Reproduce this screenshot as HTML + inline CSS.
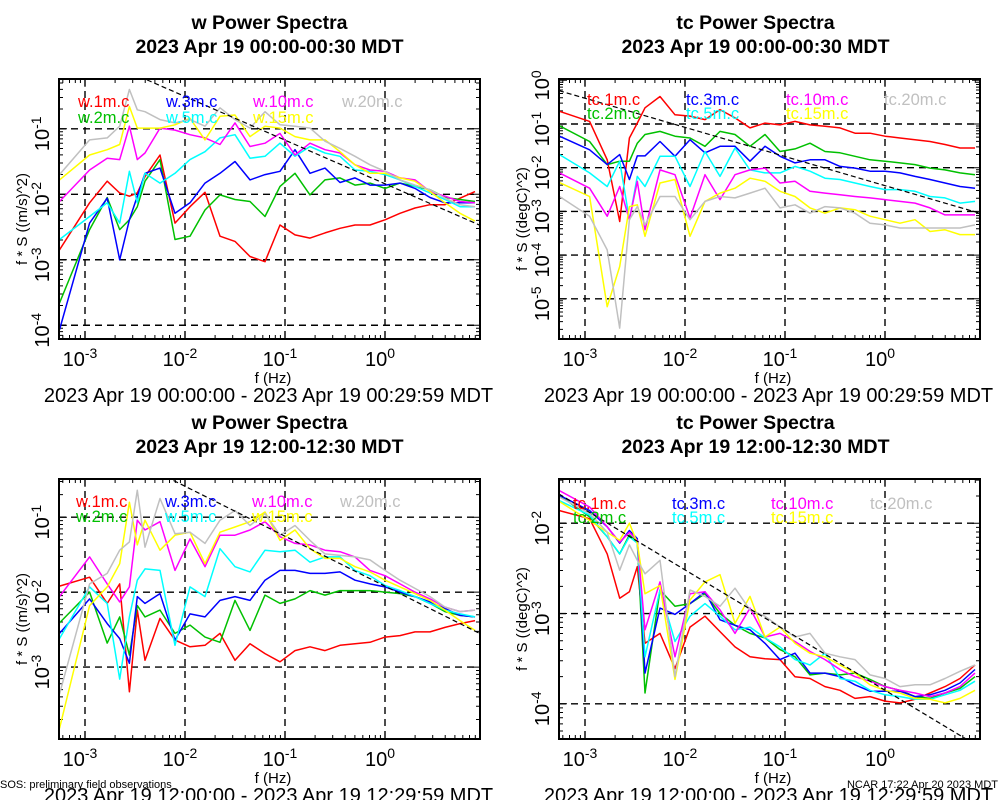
<!DOCTYPE html>
<html><head><meta charset="utf-8">
<style>
body{margin:0;background:#fff;}
svg{display:block;font-family:"Liberation Sans",sans-serif;}
</style></head>
<body>
<svg id="chart" width="1000" height="800" viewBox="0 0 1000 800"></svg>
<script>
// frequency bins (log10 Hz)
const freqLog = [-3.255,-2.954,-2.778,-2.653,-2.556,-2.477,-2.4,-2.25,-2.1,-1.95,-1.8,-1.65,-1.5,-1.35,-1.2,-1.05,-0.9,-0.75,-0.6,-0.45,-0.3,-0.15,0,0.15,0.3,0.45,0.6,0.75,0.9];
// series names
const wNames = ["w.1m.c","w.2m.c","w.3m.c","w.5m.c","w.10m.c","w.15m.c","w.20m.c"];
const tcNames = ["tc.1m.c","tc.2m.c","tc.3m.c","tc.5m.c","tc.10m.c","tc.15m.c","tc.20m.c"];
// panel 1: w 00:00 (log10 of f*S)
const w00_1m = [-2.85,-2.13,-1.80,-1.98,-2.03,-1.98,-1.73,-1.40,-2.44,-2.19,-1.97,-2.64,-2.72,-2.95,-3.03,-2.47,-2.62,-2.67,-2.59,-2.52,-2.47,-2.47,-2.39,-2.29,-2.21,-2.16,-2.16,-2.06,-1.96];
const w00_2m = [-3.66,-2.54,-2.05,-2.54,-2.39,-2.19,-1.80,-1.47,-2.69,-2.64,-2.24,-2.01,-2.08,-2.11,-2.34,-1.88,-1.68,-2.01,-1.78,-1.75,-1.86,-1.83,-1.91,-1.83,-1.88,-1.93,-2.05,-2.08,-2.11];
const w00_3m = [-4.07,-2.44,-2.06,-3.0,-2.39,-2.03,-1.68,-1.60,-2.29,-2.13,-1.83,-1.68,-1.50,-1.78,-1.70,-1.65,-1.32,-1.68,-1.60,-1.82,-1.75,-1.86,-1.86,-1.83,-1.91,-2.05,-2.13,-2.13,-2.13];
const w00_5m = [-2.69,-2.34,-2.13,-2.44,-1.65,-2.13,-1.68,-1.83,-1.68,-1.47,-1.35,-1.14,-1.09,-1.45,-1.42,-1.22,-1.42,-1.27,-1.37,-1.42,-1.63,-1.65,-1.70,-1.78,-1.88,-1.98,-2.08,-2.19,-2.19];
const w00_10m = [-2.11,-1.63,-1.45,-1.47,-0.96,-1.47,-1.37,-0.99,-1.02,-1.09,-1.14,-1.24,-0.91,-1.27,-1.22,-1.07,-1.40,-1.22,-1.32,-1.37,-1.55,-1.63,-1.65,-1.75,-1.78,-1.96,-2.03,-2.11,-2.13];
const w00_15m = [-1.78,-1.40,-1.32,-1.24,-0.66,-0.99,-0.99,-0.99,-0.94,-0.84,-1.17,-0.81,-0.79,-1.12,-0.96,-0.99,-1.12,-1.17,-1.17,-1.35,-1.55,-1.68,-1.68,-1.75,-1.80,-1.96,-2.13,-2.29,-2.41];
const w00_20m = [-1.70,-1.17,-1.14,-0.96,-0.40,-0.71,-0.74,-0.86,-0.91,-0.86,-0.96,-0.68,-0.86,-0.99,-0.74,-0.94,-0.96,-0.99,-1.19,-1.30,-1.42,-1.55,-1.65,-1.78,-1.86,-1.93,-2.06,-2.16,-2.19];
// panel 2: tc 00:00
const tc00_1m = [-0.71,-0.94,-1.82,-3.23,-1.32,-0.98,-0.63,-0.37,-0.79,-0.82,-0.90,-0.67,-0.86,-1.09,-0.98,-1.02,-0.94,-1.02,-1.05,-1.09,-1.21,-1.21,-1.28,-1.32,-1.36,-1.40,-1.47,-1.55,-1.55];
const tc00_2m = [-1.04,-1.40,-1.93,-1.85,-1.85,-1.44,-1.24,-1.17,-1.28,-1.32,-1.51,-1.17,-1.24,-1.51,-1.24,-1.63,-1.57,-1.44,-1.63,-1.66,-1.74,-1.82,-1.85,-1.89,-1.93,-2.01,-2.05,-2.12,-2.16];
const tc00_3m = [-1.28,-1.59,-1.93,-1.70,-2.27,-1.73,-1.73,-1.40,-1.74,-1.36,-1.66,-1.51,-1.51,-1.85,-1.51,-1.74,-1.89,-1.82,-1.82,-1.97,-2.01,-2.08,-2.08,-2.12,-2.20,-2.27,-2.35,-2.43,-2.47];
const tc00_5m = [-1.70,-2.12,-2.43,-1.85,-3.19,-2.20,-2.43,-1.74,-1.74,-2.43,-1.63,-2.20,-1.55,-2.05,-2.12,-2.12,-1.97,-2.08,-2.24,-2.27,-2.35,-2.43,-2.50,-2.50,-2.54,-2.66,-2.69,-2.81,-2.77];
const tc00_10m = [-2.12,-2.47,-3.11,-2.43,-3.19,-2.31,-3.42,-2.05,-2.16,-3.15,-2.16,-2.73,-2.16,-2.05,-2.01,-2.35,-2.31,-2.54,-2.58,-2.62,-2.66,-2.69,-2.73,-2.77,-2.81,-2.92,-3.08,-3.08,-3.08];
const tc00_15m = [-2.34,-2.66,-5.18,-4.26,-2.89,-2.85,-3.57,-2.35,-2.27,-3.57,-2.77,-2.58,-2.47,-2.24,-2.31,-2.54,-2.66,-2.92,-3.04,-2.92,-2.96,-3.11,-3.19,-3.27,-3.19,-3.46,-3.42,-3.53,-3.53];
const tc00_20m = [-2.66,-3.11,-3.88,-5.67,-3.19,-2.89,-3.31,-2.66,-2.66,-3.19,-2.77,-2.66,-2.69,-2.58,-2.47,-2.92,-2.85,-3.04,-2.89,-2.92,-3.04,-3.27,-3.31,-3.38,-3.38,-3.38,-3.38,-3.38,-3.31];
// panel 3: w 12:00
const w12_1m = [-1.92,-1.80,-2.15,-1.89,-3.33,-2.24,-2.91,-2.35,-2.64,-2.73,-2.71,-2.55,-2.91,-2.69,-2.82,-2.93,-2.78,-2.73,-2.78,-2.71,-2.69,-2.67,-2.60,-2.58,-2.53,-2.53,-2.47,-2.42,-2.38];
const w12_2m = [-2.41,-2.00,-2.68,-2.33,-2.84,-2.18,-2.33,-2.24,-2.55,-2.44,-2.60,-2.67,-2.11,-2.51,-2.04,-2.15,-2.09,-1.98,-2.04,-1.98,-1.98,-1.98,-2.00,-2.02,-2.06,-2.15,-2.26,-2.31,-2.33];
const w12_3m = [-2.55,-2.09,-2.42,-2.62,-2.95,-2.06,-2.15,-2.02,-2.64,-2.29,-2.33,-2.11,-2.06,-2.11,-1.84,-1.71,-1.71,-1.75,-1.75,-1.73,-1.84,-1.89,-1.93,-2.00,-2.06,-2.13,-2.22,-2.31,-2.33];
const w12_5m = [-2.62,-1.93,-2.15,-3.16,-2.33,-1.84,-1.69,-1.71,-2.71,-1.93,-2.06,-1.42,-1.66,-1.73,-1.44,-1.46,-1.44,-1.60,-1.53,-1.53,-1.71,-1.78,-1.91,-1.98,-2.06,-2.15,-2.24,-2.29,-2.33];
const w12_10m = [-2.06,-1.53,-1.89,-2.13,-1.93,-1.04,-1.17,-1.06,-1.71,-1.29,-1.66,-1.24,-1.24,-1.17,-1.06,-1.26,-1.35,-1.37,-1.44,-1.46,-1.53,-1.71,-1.78,-1.89,-2.00,-2.09,-2.20,-2.26,-2.24];
const w12_15m = [-3.82,-2.18,-1.93,-1.62,-0.80,-1.37,-1.04,-1.44,-1.24,-1.20,-1.62,-1.20,-1.13,-1.06,-0.93,-1.31,-1.17,-1.42,-1.55,-1.55,-1.66,-1.73,-1.84,-1.93,-2.02,-2.11,-2.24,-2.38,-2.51];
const w12_20m = [-3.36,-1.89,-1.75,-1.44,-1.33,-0.64,-1.40,-0.75,-1.22,-1.20,-1.35,-1.04,-0.91,-1.11,-0.95,-1.24,-1.11,-1.31,-1.49,-1.51,-1.53,-1.57,-1.71,-1.84,-1.95,-2.06,-2.20,-2.26,-2.24];
// panel 4: tc 12:00
const tc12_1m = [-1.86,-1.95,-2.34,-2.83,-2.76,-2.48,-3.33,-3.22,-3.61,-3.15,-3.03,-3.20,-3.37,-3.48,-3.50,-3.51,-3.70,-3.72,-3.81,-3.85,-3.94,-3.92,-3.97,-3.99,-3.95,-3.88,-3.81,-3.72,-3.57];
const tc12_2m = [-1.69,-1.93,-2.15,-2.34,-2.13,-2.21,-3.88,-2.74,-2.92,-2.89,-2.78,-3.00,-3.13,-3.22,-3.27,-3.40,-3.48,-3.68,-3.66,-3.68,-3.66,-3.73,-3.81,-3.85,-3.92,-3.94,-3.88,-3.83,-3.70];
const tc12_3m = [-1.69,-1.86,-2.04,-2.22,-2.08,-2.17,-3.66,-2.94,-3.01,-2.89,-2.76,-3.07,-3.13,-3.18,-3.33,-3.51,-3.44,-3.66,-3.66,-3.70,-3.79,-3.86,-3.86,-3.86,-3.92,-3.90,-3.85,-3.77,-3.62];
const tc12_5m = [-1.75,-1.91,-2.15,-2.34,-2.15,-2.22,-3.48,-2.74,-3.31,-3.03,-2.89,-3.03,-3.18,-3.15,-3.27,-3.37,-3.51,-3.57,-3.44,-3.72,-3.75,-3.85,-3.90,-3.92,-3.95,-3.95,-3.90,-3.85,-3.75];
const tc12_10m = [-1.64,-1.82,-2.04,-2.21,-2.10,-2.19,-3.18,-2.65,-3.48,-2.78,-2.76,-2.96,-3.22,-2.94,-3.26,-3.22,-3.31,-3.42,-3.51,-3.62,-3.70,-3.75,-3.81,-3.85,-3.88,-3.92,-3.88,-3.81,-3.66];
const tc12_15m = [-1.76,-1.97,-2.10,-2.19,-2.00,-2.22,-2.78,-2.69,-3.73,-2.85,-2.65,-2.57,-3.11,-2.81,-3.26,-3.15,-3.33,-3.44,-3.48,-3.57,-3.66,-3.79,-3.85,-3.88,-3.94,-3.95,-3.99,-3.94,-3.85];
const tc12_20m = [-1.71,-1.89,-2.10,-2.52,-2.24,-2.41,-2.56,-2.41,-3.70,-2.74,-2.81,-2.92,-2.72,-2.96,-3.03,-3.15,-3.26,-3.22,-3.44,-3.48,-3.51,-3.68,-3.72,-3.81,-3.79,-3.79,-3.72,-3.64,-3.57];
// -2/3 reference line intercepts (log10 value at f=1 Hz)
const refIntercepts = [-1.84,-2.41,-1.92,-3.85];
const refSlope = -2/3;

const colors = ["#ff0000","#00c000","#0000ff","#00ffff","#ff00ff","#ffff00","#c0c0c0"];
const NS = "http://www.w3.org/2000/svg";
const svg = document.getElementById("chart");
function mk(tag, attrs, parent){const e=document.createElementNS(NS,tag);for(const k in attrs)e.setAttribute(k,attrs[k]);(parent||svg).appendChild(e);return e;}

const panels = [
 {key:"w-0000", left:59, top:79, ymin:-4.21, ymax:-0.24, ydec:[-1,-2,-3,-4], title:"w Power Spectra", sub:"2023 Apr 19 00:00-00:30 MDT", ylab:"f * S ((m/s)^2)", date:"2023 Apr 19 00:00:00 - 2023 Apr 19 00:29:59 MDT", names:wNames, series:[w00_1m,w00_2m,w00_3m,w00_5m,w00_10m,w00_15m,w00_20m], legX:[78,166,253,342], legY:[107,123]},
 {key:"tc-0000", left:559, top:79, ymin:-5.92, ymax:0.03, ydec:[0,-1,-2,-3,-4,-5], title:"tc Power Spectra", sub:"2023 Apr 19 00:00-00:30 MDT", ylab:"f * S ((degC)^2)", date:"2023 Apr 19 00:00:00 - 2023 Apr 19 00:29:59 MDT", names:tcNames, series:[tc00_1m,tc00_2m,tc00_3m,tc00_5m,tc00_10m,tc00_15m,tc00_20m], legX:[587,686,786,884], legY:[105,119]},
 {key:"w-1200", left:59, top:479, ymin:-3.96, ymax:-0.49, ydec:[-1,-2,-3], title:"w Power Spectra", sub:"2023 Apr 19 12:00-12:30 MDT", ylab:"f * S ((m/s)^2)", date:"2023 Apr 19 12:00:00 - 2023 Apr 19 12:29:59 MDT", names:wNames, series:[w12_1m,w12_2m,w12_3m,w12_5m,w12_10m,w12_15m,w12_20m], legX:[76,165,252,340], legY:[507,522]},
 {key:"tc-1200", left:559, top:479, ymin:-4.39, ymax:-1.51, ydec:[-2,-3,-4], title:"tc Power Spectra", sub:"2023 Apr 19 12:00-12:30 MDT", ylab:"f * S ((degC)^2)", date:"2023 Apr 19 12:00:00 - 2023 Apr 19 12:29:59 MDT", names:tcNames, series:[tc12_1m,tc12_2m,tc12_3m,tc12_5m,tc12_10m,tc12_15m,tc12_20m], legX:[573,672,771,870], legY:[509,523]}
];
const XMIN=-3.26, XMAX=0.95, W=421, H=260;

panels.forEach((p,pi)=>{
  const g = mk("g",{});
  
  
  const xs = v => p.left + (v-XMIN)/(XMAX-XMIN)*W;
  const ys = v => p.top + (p.ymax-v)/(p.ymax-p.ymin)*H;
  const tcx = p.left + W/2 - (pi%2?14:0);
  // titles
  const t1 = mk("text",{x:tcx,y:p.top-50,"text-anchor":"middle","font-size":"19.5","font-weight":"bold"},g); t1.textContent=p.title;
  
  
  const t2 = mk("text",{x:tcx,y:p.top-26,"text-anchor":"middle","font-size":"19.5","font-weight":"bold"},g); t2.textContent=p.sub;
  
  
  // clip
  const cid="clip"+pi;
  const cp = mk("clipPath",{id:cid},g); mk("rect",{x:p.left,y:p.top,width:W,height:H},cp);
  // grid
  for(let d=-3; d<=0; d++){
    const l=mk("line",{x1:xs(d),x2:xs(d),y1:p.top,y2:p.top+H,stroke:"#000","stroke-width":"1.4","stroke-dasharray":"7,5"},g);
    
    
  }
  p.ydec.forEach(d=>{
    const y=ys(d);
    if(y>p.top+3 && y<p.top+H-3){
      const l=mk("line",{x1:p.left,x2:p.left+W,y1:y,y2:y,stroke:"#000","stroke-width":"1.4","stroke-dasharray":"7,5"},g);
      
      
    }
  });
  // minor ticks
  let tk="";
  for(let d=-4; d<=1; d++) for(let m=1;m<=9;m++){
    const v=d+Math.log10(m); if(v<XMIN||v>XMAX) continue;
    const x=xs(v), L=(m===1)?8:4;
    tk+=`M${x},${p.top+H}v${-L}M${x},${p.top}v${L}`;
  }
  for(let d=-7; d<=1; d++) for(let m=1;m<=9;m++){
    const v=d+Math.log10(m); if(v<p.ymin||v>p.ymax) continue;
    const y=ys(v), L=(m===1)?8:4;
    tk+=`M${p.left},${y}h${L}M${p.left+W},${y}h${-L}`;
  }
  const tp=mk("path",{d:tk,stroke:"#000","stroke-width":"1",fill:"none"},g);
  
  
  // series
  p.series.forEach((s,si)=>{
    const d=s.map((v,i)=>(i?"L":"M")+xs(freqLog[i]).toFixed(1)+","+ys(v).toFixed(1)).join("");
    const pl=mk("path",{d:d,stroke:colors[si],"stroke-width":"1.5",fill:"none","clip-path":`url(#${cid})`,"stroke-linejoin":"round"},g);
    
    
  });
  // reference line
  const b=refIntercepts[pi];
  const rl=mk("line",{x1:xs(XMIN),y1:ys(b+refSlope*XMIN),x2:xs(XMAX),y2:ys(b+refSlope*XMAX),stroke:"#000","stroke-width":"1.2","stroke-dasharray":"5,3","clip-path":`url(#${cid})`},g);
  
  
  // legend
  const layout=[[0,0],[0,1],[1,0],[1,1],[2,0],[2,1],[3,0]];
  p.names.forEach((n,si)=>{
    const lt=mk("text",{x:p.legX[layout[si][0]],y:p.legY[layout[si][1]],"font-size":"16.5",fill:colors[si]},g); lt.textContent=n;
    
    
  });
  // frame
  const fr=mk("rect",{x:p.left,y:p.top,width:W,height:H,fill:"none",stroke:"#000","stroke-width":"2"},g);
  
  
  // x tick labels
  for(let d=-3; d<=0; d++){
    const tx=mk("text",{x:xs(d)-5,y:p.top+H+27,"text-anchor":"middle","font-size":"20"},g);
    tx.textContent="10";
    const sp=mk("tspan",{dy:"-8","font-size":"14"},tx); sp.textContent=String(d);
    
    
  }
  // y tick labels
  p.ydec.forEach(d=>{
    const y=ys(d);
    const ty=mk("text",{transform:`translate(${p.left-10},${y+5}) rotate(-90)`,"text-anchor":"middle","font-size":"20"},g);
    ty.textContent="10";
    const sp=mk("tspan",{dy:"-8","font-size":"14"},ty); sp.textContent=String(d);
    
    
  });
  // axis titles
  const xt=mk("text",{x:xs(-1)-12,y:p.top+H+44,"text-anchor":"middle","font-size":"15"},g); xt.textContent="f (Hz)";
  
  
  const yt=mk("text",{transform:`translate(${p.left-32},${p.top+H/2+10}) rotate(-90)`,"text-anchor":"middle","font-size":"15"},g); yt.textContent=p.ylab;
  
  
  const dt=mk("text",{x:p.left+W/2-1,y:p.top+H+63,"text-anchor":"middle","font-size":"20"},g); dt.textContent=p.date;
  
  
});
const f1=mk("text",{x:0,y:788,"font-size":"11"}); f1.textContent="SOS: preliminary field observations";


const f2=mk("text",{x:998,y:788,"font-size":"11","text-anchor":"end"}); f2.textContent="NCAR 17:22 Apr 20 2023 MDT";


</script>
</body></html>
